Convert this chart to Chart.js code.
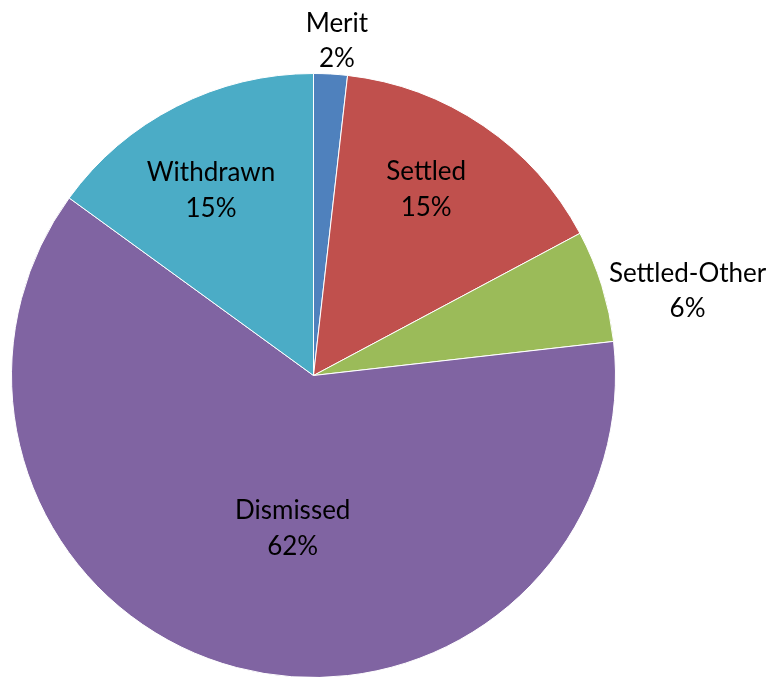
<!DOCTYPE html>
<html>
<head>
<meta charset="utf-8">
<script src="https://cdn.jsdelivr.net/npm/chart.js@4"></script>
<style>
html,body{margin:0;padding:0;background:#fff;overflow:hidden;}
#wrap{width:773px;height:677px;overflow:hidden;}
</style>
</head>
<body>
<div id="wrap"><canvas id="c" width="773" height="678"></canvas></div>
<script>
const categories = ["Merit", "Settled", "Settled-Other", "Dismissed", "Withdrawn"];
const values = [1.8, 15.4, 6.0, 61.8, 15.0];
const colors = ["#4F81BD", "#C0504D", "#9BBB59", "#8064A2", "#4BACC6"];

// label placement per slice: radial factor and angle tweak (degrees)
const labelPlace = [
  {r: 1.11, da: 0, absAngle: 4},
  {r: 0.72, da: -3},
  {r: 1.27, da: 4.5},
  {r: 0.51, da: -7},
  {r: 0.70, da: -2}
];

const labelPlugin = {
  id: 'pieLabels',
  afterDatasetsDraw(chart) {
    const ctx = chart.ctx;
    const meta = chart.getDatasetMeta(0);
    const total = values.reduce((a, b) => a + b, 0);
    ctx.save();
    ctx.font = '26px Lato, "Open Sans", sans-serif';
    ctx.fillStyle = '#000';
    ctx.textAlign = 'center';
    ctx.textBaseline = 'middle';
    meta.data.forEach((arc, i) => {
      const p = labelPlace[i];
      let mid = (arc.startAngle + arc.endAngle) / 2 + p.da * Math.PI / 180;
      if (p.absAngle !== undefined) mid = -Math.PI / 2 + p.absAngle * Math.PI / 180;
      const rr = arc.outerRadius * p.r;
      const x = arc.x + Math.cos(mid) * rr;
      const y = arc.y + Math.sin(mid) * rr;
      const pct = Math.round(values[i] / total * 100) + '%';
      ctx.fillText(categories[i], x, y - 17.5);
      ctx.fillText(pct, x, y + 18);
    });
    ctx.restore();
  }
};

new Chart(document.getElementById('c'), {
  type: 'pie',
  data: {
    labels: categories,
    datasets: [{
      data: values,
      backgroundColor: colors,
      borderColor: '#ffffff',
      borderWidth: 1
    }]
  },
  options: {
    responsive: false,
    animation: false,
    layout: {padding: {left: 11, right: 157, top: 73, bottom: 0}},
    plugins: {legend: {display: false}, tooltip: {enabled: false}}
  },
  plugins: [labelPlugin]
});
</script>
</body>
</html>
